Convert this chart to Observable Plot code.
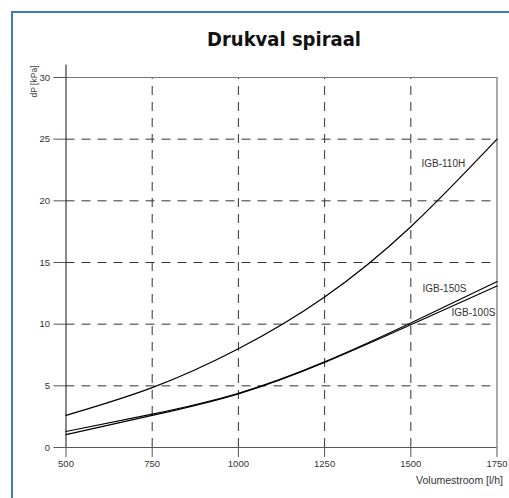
<!DOCTYPE html>
<html><head><meta charset="utf-8">
<script src="https://cdn.jsdelivr.net/npm/d3@7"></script>
<script src="https://cdn.jsdelivr.net/npm/@observablehq/plot@0.6"></script>
<style>
body{margin:0;background:#fff;}
#wrap{position:relative;width:509px;height:498px;overflow:hidden;background:#fff;}
#frame{position:absolute;left:11px;top:11px;right:-5px;bottom:-5px;border-left:2px solid #3b7dc0;border-top:2px solid #3b7dc0;}
#title{position:absolute;top:27px;left:0;width:568px;text-align:center;font:bold 20px "DejaVu Sans Condensed";color:#111;}
#chart{position:absolute;left:0;top:0;}
</style></head>
<body>
<div id="wrap"><div id="frame"></div><div id="chart"></div><div id="title">Drukval spiraal</div></div>
<script>
const flow = [500, 750, 1000, 1250, 1500, 1750];
const igb110H = [2.6, 4.85, 8.0, 12.2, 17.9, 25.0];
const igb150S = [1.3, 2.7, 4.4, 6.95, 10.1, 13.45];
const igb100S = [1.05, 2.6, 4.35, 6.9, 9.95, 13.1];
const seriesNames = ["IGB-110H", "IGB-150S", "IGB-100S"];
const labelX = [1531, 1534, 1618];
const labelY = [23.0, 12.9, 10.9];
const xTicks = [500, 750, 1000, 1250, 1500, 1750];
const yTicks = [0, 5, 10, 15, 20, 25, 30];
const gridX = [750, 1000, 1250, 1500];
const gridY = [5, 10, 15, 20, 25];
const xLabel = "Volumestroom [l/h]";
const yLabel = "dP [kPa]";

const series = [igb110H, igb150S, igb100S];
const rows = series.flatMap((vals, i) => vals.map((v, j) => ({name: seriesNames[i], x: flow[j], y: v})));
const labels = seriesNames.map((n, i) => ({name: n, x: labelX[i], y: labelY[i]}));

const chart = Plot.plot({
  width: 509, height: 498,
  marginLeft: 65.5, marginRight: 12.5, marginTop: 77, marginBottom: 51,
  x: {domain: [500, 1750]},
  y: {domain: [0, 30]},
  style: {fontFamily: "Liberation Sans", fontSize: "9.5px", background: "transparent"},
  marks: [
    Plot.ruleY(gridY, {x1: 500, x2: 1750, stroke: "#333", strokeDasharray: "9,7", strokeOpacity: 1}),
    Plot.ruleX(gridX, {y1: 0, y2: 30, stroke: "#333", strokeDasharray: "9,7", strokeOpacity: 1}),
    Plot.ruleY([30], {x1: 500, x2: 1750, stroke: "#777"}),
    Plot.ruleX([1750], {y1: 0, y2: 30, stroke: "#555"}),
    Plot.ruleY([0], {x1: 500, x2: 1750, stroke: "#555"}),
    Plot.ruleX([500], {y1: 0, y2: 31, stroke: "#111"}),
    Plot.line(rows, {x: "x", y: "y", z: "name", curve: "natural", stroke: "#000", strokeWidth: 1.2}),
    Plot.text(labels, {x: "x", y: "y", text: "name", textAnchor: "start", fill: "#333", fontSize: 10}),
    Plot.axisX(xTicks, {tickSize: 10, tickPadding: 3, tickFormat: d => String(d), stroke: "#555", fill: "#333", label: null}),
    Plot.axisY(yTicks, {tickSize: 12, tickPadding: 4, tickFormat: d => String(d), stroke: "#555", fill: "#333", label: null}),
    Plot.text([xLabel], {frameAnchor: "bottom-right", textAnchor: "end", dx: 6, dy: 36, fill: "#333", fontSize: 10.5}),
    Plot.text([yLabel], {frameAnchor: "top-left", rotate: -90, textAnchor: "end", dx: -35.5, dy: -12, fill: "#444", fontSize: 8.5})
  ]
});
document.getElementById("chart").appendChild(chart);
</script>
</body></html>
